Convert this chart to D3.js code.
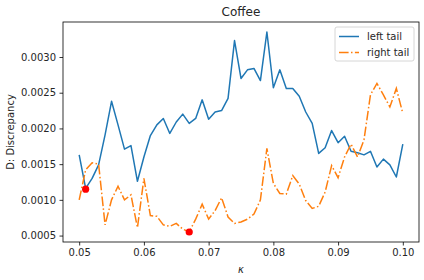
<!DOCTYPE html>
<html>
<head>
<meta charset="utf-8">
<script src="https://cdn.jsdelivr.net/npm/d3@7"></script>
<style>
  body { margin: 0; background: #fff; }
  svg text { font-family: "DejaVu Sans", sans-serif; fill: #262626; }
</style>
</head>
<body>
<div id="vis"></div>
<script>
// set constants
const FRAME_WIDTH = 424;
const FRAME_HEIGHT = 280;
const MARGINS = {left: 63, right: 5, top: 22, bottom: 38};
const VIS_WIDTH = FRAME_WIDTH - MARGINS.left - MARGINS.right;
const VIS_HEIGHT = FRAME_HEIGHT - MARGINS.top - MARGINS.bottom;

// data
const KAPPA = d3.range(51).map(i => +(0.05 + i * 0.001).toFixed(3));
const LEFT_TAIL = [
  0.00163, 0.00116, 0.00130, 0.00149, 0.00191, 0.00238, 0.00205, 0.00171, 0.00176, 0.00126,
  0.00160, 0.00190, 0.00205, 0.00214, 0.00193, 0.00209, 0.00220, 0.00207, 0.00214, 0.00240,
  0.00213, 0.00223, 0.00225, 0.00242, 0.00323, 0.00270, 0.00282, 0.00284, 0.00267, 0.00335,
  0.00257, 0.00282, 0.00256, 0.00256, 0.00245, 0.00223, 0.00207, 0.00165, 0.00173, 0.00197,
  0.00180, 0.00189, 0.00168, 0.00166, 0.00163, 0.00168, 0.00146, 0.00157, 0.00149, 0.00132,
  0.00178
];
const RIGHT_TAIL = [
  0.00100, 0.00142, 0.00152, 0.00150, 0.00065, 0.00100, 0.00119, 0.00100, 0.00107, 0.00061,
  0.00130, 0.00078, 0.00077, 0.00065, 0.00063, 0.00067, 0.00059, 0.00055, 0.00073, 0.00094,
  0.00073, 0.00085, 0.00103, 0.00076, 0.00067, 0.00069, 0.00073, 0.00080, 0.00100, 0.00172,
  0.00123, 0.00109, 0.00108, 0.00134, 0.00122, 0.00099, 0.00088, 0.00091, 0.00111, 0.00148,
  0.00131, 0.00160, 0.00178, 0.00160, 0.00184, 0.00247, 0.00263, 0.00247, 0.00230, 0.00256,
  0.00221
];
const MARKS_X = [0.051, 0.067];
const MARKS_Y = [0.00115, 0.00055];
const X_TICKS = [0.05, 0.06, 0.07, 0.08, 0.09, 0.10];
const Y_TICKS = [0.0005, 0.0010, 0.0015, 0.0020, 0.0025, 0.0030];

const FRAME = d3.select("#vis")
  .append("svg")
    .attr("width", FRAME_WIDTH)
    .attr("height", FRAME_HEIGHT);

// scales with matplotlib style 5% padding
const xPad = (d3.max(KAPPA) - d3.min(KAPPA)) * 0.05;
const X_SCALE = d3.scaleLinear()
  .domain([d3.min(KAPPA) - xPad, d3.max(KAPPA) + xPad])
  .range([0, VIS_WIDTH]);

const allY = LEFT_TAIL.concat(RIGHT_TAIL);
const yPad = (d3.max(allY) - d3.min(allY)) * 0.05;
const Y_SCALE = d3.scaleLinear()
  .domain([d3.min(allY) - yPad, d3.max(allY) + yPad])
  .range([VIS_HEIGHT, 0]);

const G = FRAME.append("g")
  .attr("transform", "translate(" + MARGINS.left + "," + MARGINS.top + ")");

// axes
const xAxis = G.append("g")
  .attr("transform", "translate(0," + VIS_HEIGHT + ")")
  .call(d3.axisBottom(X_SCALE).tickValues(X_TICKS).tickFormat(d3.format(".2f")).tickSize(3.5).tickPadding(3.5));
const yAxis = G.append("g")
  .call(d3.axisLeft(Y_SCALE).tickValues(Y_TICKS).tickFormat(d3.format(".4f")).tickSize(3.5).tickPadding(3.5));
[xAxis, yAxis].forEach(a => {
  a.select(".domain").remove();
  a.selectAll("line").attr("stroke", "#000").attr("stroke-width", 0.8);
  a.selectAll("text").style("font-size", "10px").attr("fill", "#262626");
});

// frame
G.append("rect")
  .attr("width", VIS_WIDTH)
  .attr("height", VIS_HEIGHT)
  .attr("fill", "none")
  .attr("stroke", "#000")
  .attr("stroke-width", 0.8);

// lines
const line = d3.line()
  .x((d, i) => X_SCALE(KAPPA[i]))
  .y(d => Y_SCALE(d));

G.append("path")
  .datum(LEFT_TAIL)
  .attr("d", line)
  .attr("fill", "none")
  .attr("stroke", "#1f77b4")
  .attr("stroke-width", 1.5)
  .attr("stroke-linejoin", "round");

G.append("path")
  .datum(RIGHT_TAIL)
  .attr("d", line)
  .attr("fill", "none")
  .attr("stroke", "#ff7f0e")
  .attr("stroke-width", 1.5)
  .attr("stroke-dasharray", "9.6,2.4,1.5,2.4");

// red points
G.selectAll(".point")
  .data(MARKS_X)
  .enter()
  .append("circle")
    .attr("class", "point")
    .attr("cx", d => X_SCALE(d))
    .attr("cy", (d, i) => Y_SCALE(MARKS_Y[i]))
    .attr("r", 3.6)
    .attr("fill", "red");

// title
FRAME.append("text")
  .attr("x", MARGINS.left + VIS_WIDTH / 2)
  .attr("y", MARGINS.top - 6)
  .attr("text-anchor", "middle")
  .style("font-size", "12px")
  .text("Coffee");

// x label
FRAME.append("text")
  .attr("x", MARGINS.left + VIS_WIDTH / 2)
  .attr("y", FRAME_HEIGHT - 7)
  .attr("text-anchor", "middle")
  .style("font-size", "10px")
  .style("font-style", "italic")
  .text("κ");

// y label
FRAME.append("text")
  .attr("transform", "translate(14," + (MARGINS.top + VIS_HEIGHT / 2) + ") rotate(-90)")
  .attr("text-anchor", "middle")
  .style("font-size", "10px")
  .text("D: Discrepancy");

// legend
const LEG = G.append("g")
  .attr("transform", "translate(" + (VIS_WIDTH - 84) + ",5)");
LEG.append("rect")
  .attr("width", 79)
  .attr("height", 34)
  .attr("rx", 2)
  .attr("fill", "#fff")
  .attr("fill-opacity", 0.8)
  .attr("stroke", "#ccc")
  .attr("stroke-width", 0.8);
const LEG_ITEMS = [
  {name: "left tail", color: "#1f77b4", dash: null},
  {name: "right tail", color: "#ff7f0e", dash: "9.6,2.4,1.5,2.4"}
];
LEG_ITEMS.forEach((d, i) => {
  const yy = 9.5 + i * 16;
  LEG.append("line")
    .attr("x1", 4).attr("x2", 24)
    .attr("y1", yy).attr("y2", yy)
    .attr("stroke", d.color)
    .attr("stroke-width", 1.5)
    .attr("stroke-dasharray", d.dash);
  LEG.append("text")
    .attr("x", 32)
    .attr("y", yy + 3.5)
    .style("font-size", "10px")
    .text(d.name);
});
</script>
</body>
</html>
